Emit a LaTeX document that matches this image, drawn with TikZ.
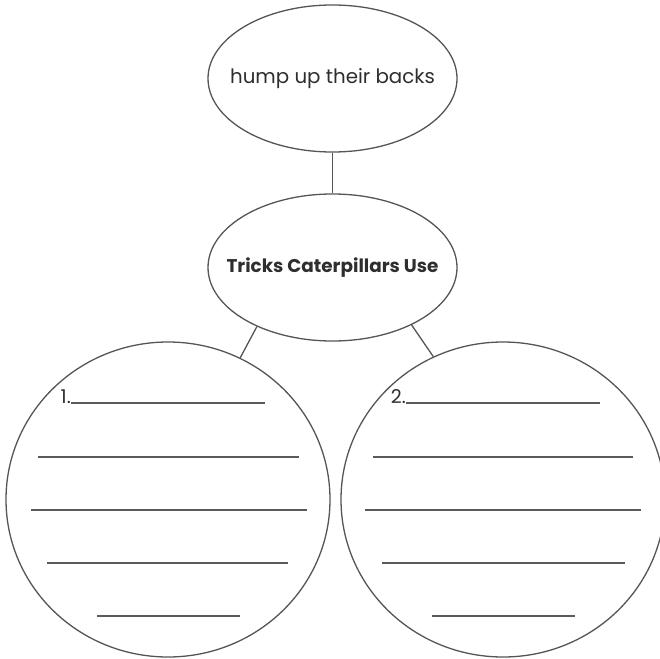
\documentclass[tikz,border=0pt]{standalone}
\usepackage{fontspec}
\setmainfont{Poppins}
\usetikzlibrary{shapes.geometric}
\definecolor{edgegray}{HTML}{555555}
\definecolor{rulegray}{HTML}{5A5A5A}
\definecolor{txtgray}{HTML}{2E2E2E}
\tikzset{
  oval/.style={ellipse, draw=edgegray, line width=1.3pt, inner sep=0pt},
  lbl/.style={inner sep=0pt, text=txtgray, font=\fontsize{19.8}{22}\selectfont},
  conn/.style={draw=edgegray, line width=1.3pt},
  wline/.style={draw=rulegray, line width=1.9pt},
  numlbl/.style={anchor=base east, inner sep=0pt, text=txtgray, font=\fontsize{19}{21}\selectfont}
}
\begin{document}
\begin{tikzpicture}[x=1pt,y=-1pt]
\useasboundingbox (0,0) rectangle (660,658);
\node[oval, minimum width=249pt, minimum height=147pt] (top) at (332.5,78.5) {};
\node[lbl] (toptxt) at (top.center) {hump up their backs};
\node[oval, minimum width=249pt, minimum height=147pt] (mid) at (332.5,267.5) {};
\node[lbl, font=\fontsize{18.4}{21}\selectfont\bfseries] (midtxt) at (mid.center) {Tricks Caterpillars Use};
\node[oval, minimum width=324pt, minimum height=315pt] (left) at (168,499.5) {};
\node[oval, minimum width=324pt, minimum height=315pt] (right) at (503,499.5) {};
\draw[conn] (top.south) -- (mid.north);
\draw[conn] (mid.218.7) -- (left.63.8);
\draw[conn] (mid.-36.8) -- (right.116.2);
% left circle lines
\node[numlbl] (n1) at (71,403) {1.};
\draw[wline] (n1.base east) -- (265,403);
\draw[wline] (38,457) -- (299,457);
\draw[wline] (31,510) -- (307,510);
\draw[wline] (47,563) -- (288,563);
\draw[wline] (97,616) -- (240,616);
% right circle lines
\node[numlbl] (n2) at (406,403) {2.};
\draw[wline] (n2.base east) -- (600,403);
\draw[wline] (373,457) -- (633,457);
\draw[wline] (365,510) -- (641,510);
\draw[wline] (382,563) -- (625,563);
\draw[wline] (432,616) -- (575,616);
\end{tikzpicture}
\end{document}
